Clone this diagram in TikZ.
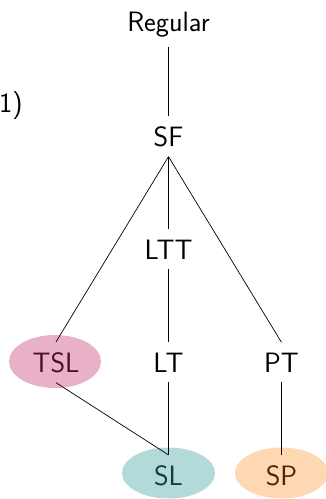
\documentclass[tikz,border=0pt]{standalone}
\usepackage{tikz}
\definecolor{tslfill}{RGB}{233,177,199}
\definecolor{tsltext}{RGB}{72,12,40}
\definecolor{slfill}{RGB}{178,218,216}
\definecolor{sltext}{RGB}{16,60,60}
\definecolor{spfill}{RGB}{254,216,178}
\definecolor{sptext}{RGB}{74,38,10}
\tikzset{
  lbl/.style={font=\sffamily\fontsize{28}{32}\selectfont, inner sep=10pt, anchor=base},
  edge/.style={draw=black, line width=0.7pt}
}
\begin{document}
\begin{tikzpicture}[x=1pt,y=-1pt]
\useasboundingbox (0,0) rectangle (325,499);
% coloured backdrops of the three highlighted classes
\fill[tslfill] (55,361.5) ellipse [x radius=46, y radius=26.5];
\fill[slfill] (168.5,473) ellipse [x radius=46.5, y radius=25.5];
\fill[spfill] (281.5,473) ellipse [x radius=46.5, y radius=25.5];
% class labels (placed by their baselines)
\node[lbl] (reg) at (168.5,31) {Regular};
\node[lbl, anchor=base west, inner sep=0pt] (num) at (-1,112) {1)};
\node[lbl] (sf) at (168.5,146) {SF};
\node[lbl] (ltt) at (168.5,259) {LTT};
\node[lbl, text=tsltext] (tsl) at (56,372) {TSL};
\node[lbl] (lt) at (168.5,372) {LT};
\node[lbl] (pt) at (281.5,372) {PT};
\node[lbl, text=sltext] (sl) at (168.5,485) {SL};
\node[lbl, text=sptext] (sp) at (281.5,485) {SP};
% inclusions, each from the lower class label to the upper one
\draw[edge] (reg.south) -- (sf.north);
\draw[edge] (sf.south) -- (tsl.north);
\draw[edge] (sf.south) -- (ltt.north);
\draw[edge] (sf.south) -- (pt.north);
\draw[edge] (ltt.south) -- (lt.north);
\draw[edge] (tsl.south) -- (sl.north);
\draw[edge] (lt.south) -- (sl.north);
\draw[edge] (pt.south) -- (sp.north);
\end{tikzpicture}
\end{document}
